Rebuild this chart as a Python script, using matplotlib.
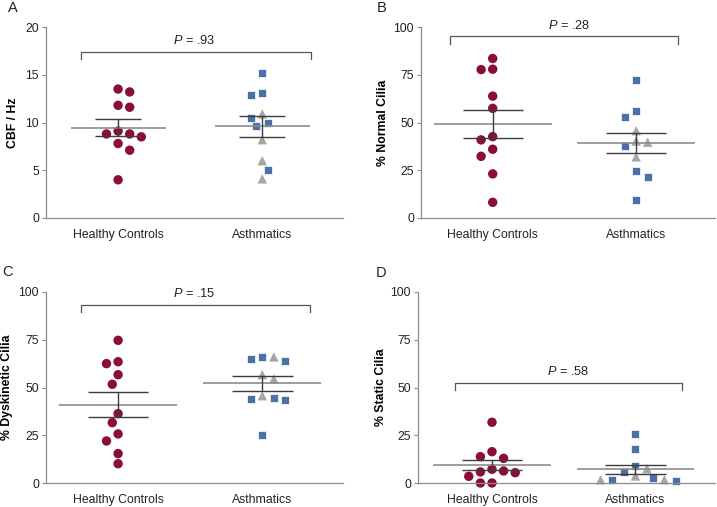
import numpy as np
import matplotlib.pyplot as plt

plt.rcParams['font.family'] = 'Liberation Sans'
plt.rcParams['mathtext.fontset'] = 'custom'
plt.rcParams['mathtext.it'] = 'Liberation Sans:italic'
plt.rcParams['mathtext.rm'] = 'Liberation Sans'

groups = ['Healthy Controls', 'Asthmatics']

# A - ciliary beat frequency
cbf_healthy = [13.2, 13.5, 11.8, 11.6, 8.8, 8.5, 8.8, 9.1, 7.8, 7.1, 4.0]
cbf_asth_sq = [15.2, 13.1, 12.9, 10.5, 9.9, 9.6, 5.0]
cbf_asth_tri = [10.9, 8.2, 6.0, 4.1]

# B - % normal cilia
normal_healthy = [83.5, 77.7, 77.9, 63.8, 57.4, 42.6, 40.9, 36.0, 32.3, 23.1, 8.2]
normal_asth_sq = [72.3, 55.8, 53.0, 37.7, 24.7, 21.7, 9.4]
normal_asth_tri = [45.7, 39.7, 40.3, 32.0]

# C - % dyskinetic cilia
dysk_healthy = [74.7, 62.5, 63.5, 56.7, 51.7, 36.3, 31.6, 25.7, 22.0, 15.4, 10.1]
dysk_asth_sq = [66.0, 64.9, 63.9, 43.8, 43.6, 44.5, 25.3]
dysk_asth_tri = [66.0, 54.5, 56.7, 45.7]

# D - % static cilia
static_healthy = [31.8, 16.4, 12.9, 13.8, 5.8, 7.2, 6.3, 5.4, 3.5, 0.0, 0.0]
static_asth_sq = [25.8, 17.8, 9.1, 5.8, 2.6, 1.2, 1.7]
static_asth_tri = [7.5, 1.7, 1.7, 3.7]

p_values = ['.93', '.28', '.15', '.58']

RED = '#8a0d3b'
BLUE = '#4a70a5'
GREY = '#a6a6a6'

W, H = 717, 507
fig = plt.figure(figsize=(W / 100, H / 100), dpi=100)


def swarm(values, ax, step_px=5.8, min_px=10.0):
    """Horizontal offsets (data units) so the markers of one group don't overlap."""
    pos = ax.get_position()
    x0, x1 = ax.get_xlim()
    y0, y1 = ax.get_ylim()
    sx = pos.width * W / (x1 - x0)
    sy = pos.height * H / (y1 - y0)
    ys = np.asarray(values, dtype=float) * sy
    out = np.zeros(len(ys))
    placed = []
    for n, i in enumerate(np.argsort(-ys)):
        cands = [0.0]
        for k in range(1, 60):
            cands += [k * step_px, -k * step_px] if n % 2 else [-k * step_px, k * step_px]
        for c in cands:
            if all((c - px) ** 2 + (ys[i] - py) ** 2 >= min_px ** 2 for px, py in placed):
                break
        placed.append((c, ys[i]))
        out[i] = c / sx
    return out


def panel(rect, xlim, ymax, yticks, ylabel, healthy, asth_sq, asth_tri, p, bracket, mean_hw, sem_hw):
    ax = fig.add_axes(rect)
    ax.set_xlim(*xlim)
    ax.set_ylim(0, ymax)
    for s in ['top', 'right']:
        ax.spines[s].set_visible(False)
    for s in ['left', 'bottom']:
        ax.spines[s].set_color('#8c8c8c')
        ax.spines[s].set_linewidth(0.9)
    ax.set_yticks(yticks)
    ax.set_xticks([1, 2])
    ax.set_xticklabels(groups)
    ax.tick_params(axis='y', length=3, color='#8c8c8c', labelsize=8.8, pad=2, labelcolor='#222222')
    ax.tick_params(axis='x', length=0, labelsize=8.8, pad=8, labelcolor='#222222')
    ax.set_ylabel(ylabel, fontsize=8.8, fontweight='bold')

    # healthy controls
    dx = swarm(healthy, ax)
    ax.scatter(1 + dx, healthy, s=46, marker='o', color=RED, edgecolor='none', zorder=2, clip_on=False)

    # asthmatics (squares + triangles share one swarm)
    vals = list(asth_sq) + list(asth_tri)
    dx = swarm(vals, ax)
    nsq = len(asth_sq)
    ax.scatter(2 + dx[:nsq], asth_sq, s=38, marker='s', color=BLUE, edgecolor='white',
               linewidth=0.5, zorder=2, clip_on=False)
    ax.scatter(2 + dx[nsq:], asth_tri, s=46, marker='^', color=GREY, edgecolor='none',
               zorder=2, clip_on=False)

    # mean +/- SEM
    for g, v in [(1, healthy), (2, vals)]:
        v = np.asarray(v)
        m = v.mean()
        se = v.std(ddof=1) / np.sqrt(len(v))
        ax.hlines(m, g - mean_hw, g + mean_hw, color='#8c8c8c', lw=1.2, zorder=3)
        ax.hlines([m - se, m + se], g - sem_hw, g + sem_hw, color='#3d3d3d', lw=1.0, zorder=3)
        ax.vlines(g, m - se, m + se, color='#3d3d3d', lw=1.0, zorder=3)

    # significance bracket
    bx0, bx1, by, drop, ty = bracket
    ax.plot([bx0, bx0, bx1, bx1], [by - drop, by, by, by - drop], color='#555555', lw=0.9,
            clip_on=False)
    ax.text(1.53, ty, '$P$ = ' + p, ha='center', va='center', fontsize=9.2, color='#222222')
    return ax


panel([46 / W, 289 / H, 297 / W, 191 / H], (0.5, 2.56), 20, [0, 5, 10, 15, 20], 'CBF / Hz',
      cbf_healthy, cbf_asth_sq, cbf_asth_tri, p_values[0], (0.745, 2.34, 17.4, 0.7, 18.6), 0.33, 0.16)
panel([421 / W, 289 / H, 294 / W, 191 / H], (0.5, 2.55), 100, [0, 25, 50, 75, 100], '% Normal Cilia',
      normal_healthy, normal_asth_sq, normal_asth_tri, p_values[1], (0.705, 2.295, 95.1, 3.8, 100.9), 0.41, 0.21)
panel([46 / W, 24 / H, 297 / W, 191 / H], (0.5, 2.56), 100, [0, 25, 50, 75, 100], '% Dyskinetic Cilia',
      dysk_healthy, dysk_asth_sq, dysk_asth_tri, p_values[2], (0.745, 2.33, 93.0, 3.5, 99.0), 0.41, 0.21)
panel([418 / W, 24 / H, 297 / W, 191 / H], (0.484, 2.555), 100, [0, 25, 50, 75, 100], '% Static Cilia',
      static_healthy, static_asth_sq, static_asth_tri, p_values[3], (0.74, 2.325, 52.4, 3.9, 58.6), 0.41, 0.21)

# ylabel anchor is the right edge of the rotated label
for ax, x in zip(fig.axes, [-0.09, -0.11, -0.11, -0.103]):
    ax.yaxis.set_label_coords(x, 0.5)

for lbl, x, y in [('A', 8, 8), ('B', 377, 8), ('C', 2, 272), ('D', 376, 273)]:
    fig.text(x / W, 1 - y / H, lbl, fontsize=10.5, ha='left', va='center', color='#222222')

fig.savefig('out.png', dpi=100)
